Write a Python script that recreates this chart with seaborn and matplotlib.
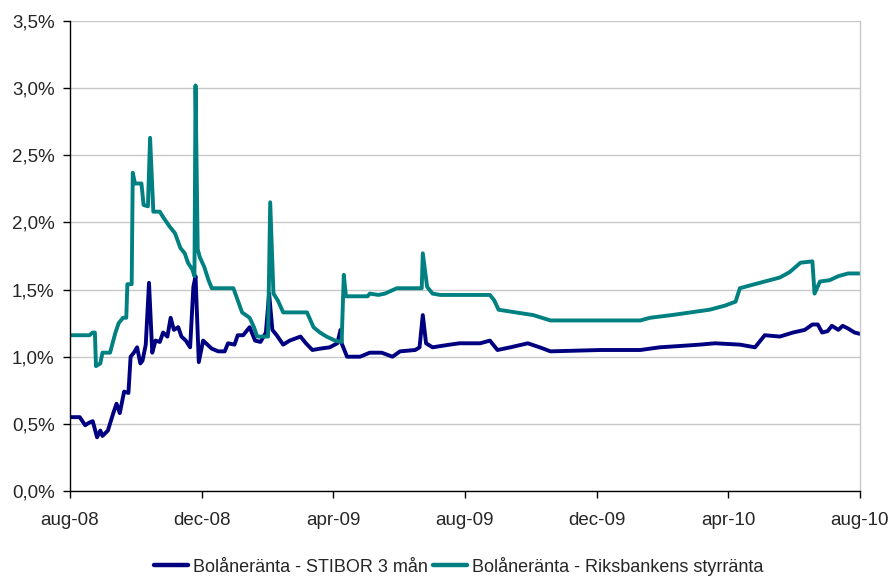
import pandas as pd
import numpy as np
import matplotlib
matplotlib.use("Agg")
import matplotlib.pyplot as plt
from matplotlib.ticker import FuncFormatter
from matplotlib.lines import Line2D
import seaborn as sns

# Days since 2008-08-01 and values (%)
stibor_days = [0, 9, 14, 18, 21, 25, 28, 30, 35, 40, 43, 46, 50, 54, 56, 59, 62, 65, 67, 70,
               73, 76, 79, 83, 86, 90, 93, 96, 100, 103, 107, 111, 114, 116, 119, 123, 127, 131,
               137, 143, 146, 152, 155, 160, 166, 171, 176, 181, 184, 187, 191, 197, 203, 213,
               218, 224, 231, 240, 247, 250, 251, 256, 268, 277, 288, 298, 305, 319, 323, 326,
               329, 335, 351, 360, 379, 388, 395, 407, 423, 434, 444, 490, 527, 545, 564, 582,
               596, 619, 633, 642, 656, 668, 679, 686, 691, 695, 700, 704, 710, 714, 719, 725, 730]
stibor_vals = [0.55, 0.55, 0.49, 0.51, 0.52, 0.40, 0.45, 0.41, 0.45, 0.58, 0.65, 0.58, 0.74, 0.73,
               1.00, 1.03, 1.07, 0.95, 0.97, 1.09, 1.55, 1.03, 1.12, 1.11, 1.18, 1.15, 1.29, 1.20,
               1.22, 1.15, 1.12, 1.07, 1.52, 1.60, 0.96, 1.12, 1.09, 1.06, 1.04, 1.04, 1.10, 1.09,
               1.16, 1.16, 1.22, 1.12, 1.11, 1.18, 1.47, 1.20, 1.16, 1.09, 1.12, 1.15, 1.10, 1.05,
               1.06, 1.07, 1.10, 1.20, 1.10, 1.00, 1.00, 1.03, 1.03, 1.00, 1.04, 1.05, 1.07, 1.31,
               1.10, 1.07, 1.09, 1.10, 1.10, 1.12, 1.05, 1.07, 1.10, 1.07, 1.04, 1.05, 1.05, 1.07,
               1.08, 1.09, 1.10, 1.09, 1.07, 1.16, 1.15, 1.18, 1.20, 1.24, 1.24, 1.18, 1.19, 1.23,
               1.20, 1.23, 1.21, 1.18, 1.17]

riks_days = [0, 18, 21, 23, 24, 28, 30, 37, 42, 45, 49, 52, 53, 57, 58, 60, 66, 68, 72, 74, 77,
             83, 86, 92, 97, 102, 106, 109, 113, 115, 116, 118, 120, 124, 128, 131, 151, 155, 159,
             166, 170, 173, 183, 185, 188, 192, 197, 219, 225, 231, 237, 245, 251, 253, 255, 275,
             277, 285, 291, 302, 325, 326, 330, 335, 342, 388, 392, 396, 428, 444, 527, 536, 556,
             591, 605, 615, 619, 628, 656, 665, 675, 686, 688, 693, 702, 710, 719, 730]
riks_vals = [1.16, 1.16, 1.18, 1.18, 0.93, 0.95, 1.03, 1.03, 1.18, 1.25, 1.29, 1.29, 1.54, 1.54,
             2.37, 2.29, 2.29, 2.13, 2.12, 2.63, 2.08, 2.08, 2.04, 1.97, 1.92, 1.81, 1.77, 1.70,
             1.65, 1.60, 3.02, 1.80, 1.74, 1.67, 1.57, 1.51, 1.51, 1.42, 1.33, 1.29, 1.22, 1.15,
             1.15, 2.15, 1.47, 1.42, 1.33, 1.33, 1.22, 1.18, 1.15, 1.12, 1.11, 1.61, 1.45, 1.45,
             1.47, 1.46, 1.47, 1.51, 1.51, 1.77, 1.52, 1.47, 1.46, 1.46, 1.42, 1.35, 1.31, 1.27,
             1.27, 1.29, 1.31, 1.35, 1.38, 1.41, 1.51, 1.53, 1.59, 1.63, 1.70, 1.71, 1.47, 1.56,
             1.57, 1.60, 1.62, 1.62]

series_names = ["Bolåneränta - STIBOR 3 mån", "Bolåneränta - Riksbankens styrränta"]
series_colors = ["#000080", "#008080"]
tick_dates = ["2008-08-01", "2008-12-01", "2009-04-01", "2009-08-01",
              "2009-12-01", "2010-04-01", "2010-08-01"]
tick_labels = ["aug-08", "dec-08", "apr-09", "aug-09", "dec-09", "apr-10", "aug-10"]

start = pd.Timestamp("2008-08-01")
df = pd.concat([
    pd.DataFrame({"date": start + pd.to_timedelta(stibor_days, unit="D"),
                  "value": stibor_vals, "series": series_names[0]}),
    pd.DataFrame({"date": start + pd.to_timedelta(riks_days, unit="D"),
                  "value": riks_vals, "series": series_names[1]}),
], ignore_index=True)

sns.set_theme(style="white")
plt.rcParams["font.family"] = ["Liberation Sans", "DejaVu Sans"]

fig = plt.figure(figsize=(8.93, 5.76), dpi=100)
ax = fig.add_axes([70/893, 1 - 491/576, 790/893, 470/576])

sns.lineplot(data=df, x="date", y="value", hue="series", hue_order=series_names,
             palette=series_colors, linewidth=2.8, ax=ax, legend=False, sort=False,
             estimator=None)

ax.set_xlim(pd.Timestamp(tick_dates[0]), pd.Timestamp(tick_dates[-1]))
ax.set_ylim(0, 3.5)
ax.set_yticks(np.arange(0, 3.51, 0.5))
ax.yaxis.set_major_formatter(FuncFormatter(lambda v, p: f"{v:.1f}%".replace(".", ",")))
ax.set_xticks([pd.Timestamp(d) for d in tick_dates])
ax.set_xticklabels(tick_labels)
ax.set_xlabel("")
ax.set_ylabel("")
ax.grid(axis="y", color="#c8c8c8", linewidth=1)
ax.set_axisbelow(True)
for s in ["left", "bottom"]:
    ax.spines[s].set_color("black")
    ax.spines[s].set_linewidth(1)
ax.spines["top"].set_visible(False)
ax.spines["right"].set_color("#c8c8c8")
ax.spines["right"].set_linewidth(1)
ax.tick_params(axis="both", which="major", direction="out", length=5, width=1,
               color="black", labelsize=13.5, left=True, bottom=True)
ax.tick_params(axis="x", pad=10)
ax.tick_params(axis="y", pad=6)

handles = [Line2D([0], [0], color=c, linewidth=3.2) for c in series_colors]
fig.legend(handles, series_names, loc="center", bbox_to_anchor=(459/893, 1 - 566/576),
           ncol=2, frameon=False, fontsize=13, handlelength=1.85, handletextpad=0.3,
           columnspacing=0.3)

fig.savefig("out.png", dpi=100)
